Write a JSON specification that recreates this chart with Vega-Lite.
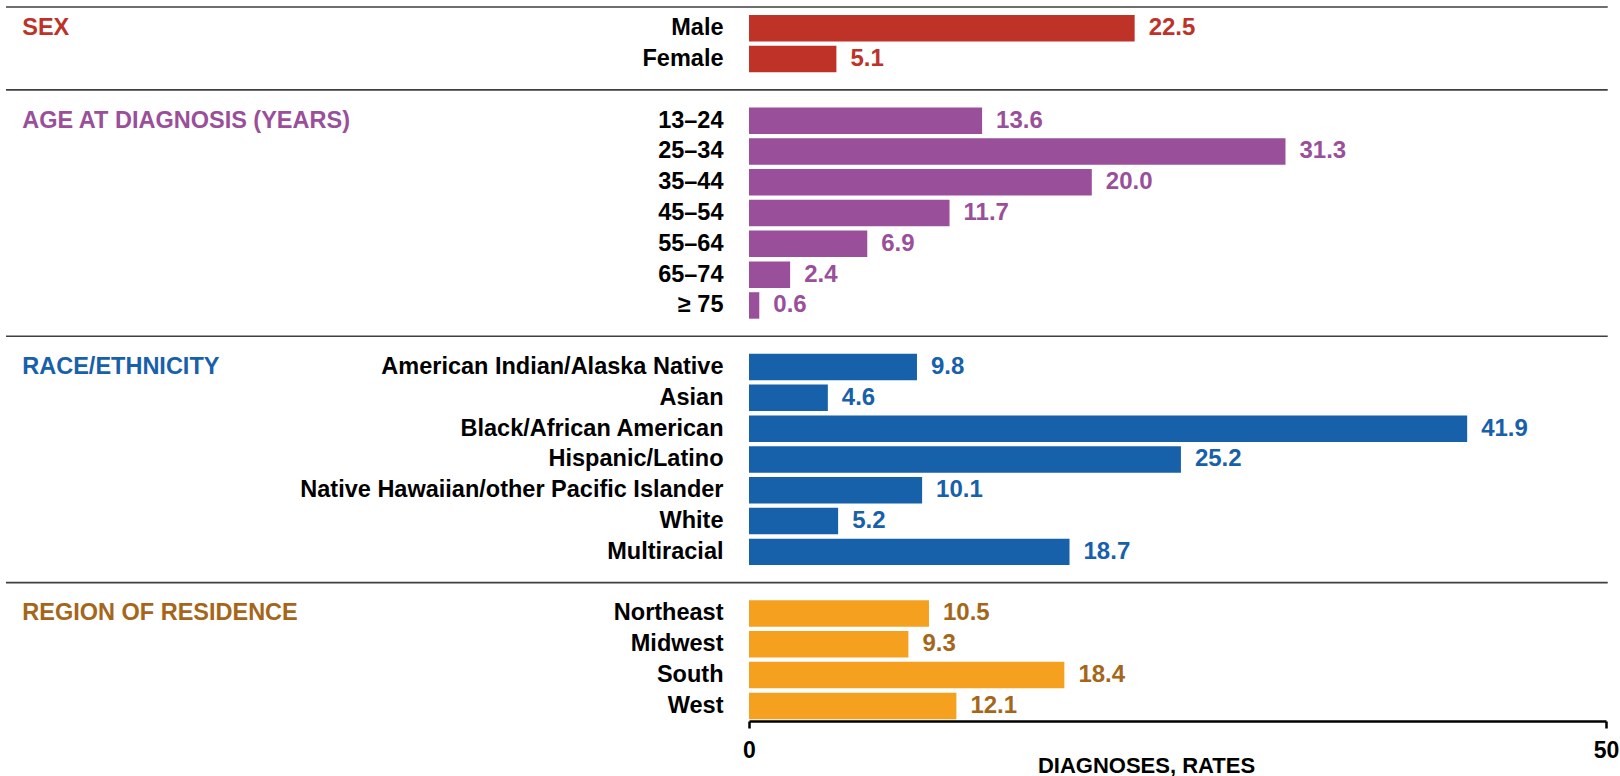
{
  "$schema": "https://vega.github.io/schema/vega-lite/v6.json",
  "width": 857,
  "height": 714,
  "autosize": {"type": "none"},
  "padding": {"left": 749, "top": 7, "right": 14, "bottom": 55},
  "background": "white",
  "config": {
    "view": {"stroke": null},
    "font": "Liberation Sans",
    "text": {"font": "Liberation Sans"}
  },
  "datasets": {
    "bars": [
      {"cat": "Male", "value": 22.5, "group": "Sex"},
      {"cat": "Female", "value": 5.1, "group": "Sex"},
      {"cat": "13–24", "value": 13.6, "group": "Age"},
      {"cat": "25–34", "value": 31.3, "group": "Age"},
      {"cat": "35–44", "value": 20.0, "group": "Age"},
      {"cat": "45–54", "value": 11.7, "group": "Age"},
      {"cat": "55–64", "value": 6.9, "group": "Age"},
      {"cat": "65–74", "value": 2.4, "group": "Age"},
      {"cat": "≥ 75", "value": 0.6, "group": "Age"},
      {"cat": "American Indian/Alaska Native", "value": 9.8, "group": "Race"},
      {"cat": "Asian", "value": 4.6, "group": "Race"},
      {"cat": "Black/African American", "value": 41.9, "group": "Race"},
      {"cat": "Hispanic/Latino", "value": 25.2, "group": "Race"},
      {"cat": "Native Hawaiian/other Pacific Islander", "value": 10.1, "group": "Race"},
      {"cat": "White", "value": 5.2, "group": "Race"},
      {"cat": "Multiracial", "value": 18.7, "group": "Race"},
      {"cat": "Northeast", "value": 10.5, "group": "Region"},
      {"cat": "Midwest", "value": 9.3, "group": "Region"},
      {"cat": "South", "value": 18.4, "group": "Region"},
      {"cat": "West", "value": 12.1, "group": "Region"}
    ],
    "titles": [
      {"title": "SEX", "first": "Male", "group": "Sex"},
      {"title": "AGE AT DIAGNOSIS (YEARS)", "first": "13–24", "group": "Age"},
      {"title": "RACE/ETHNICITY", "first": "American Indian/Alaska Native", "group": "Race"},
      {"title": "REGION OF RESIDENCE", "first": "Northeast", "group": "Region"}
    ],
    "seps": [
      {"sep": "gap1"},
      {"sep": "gap2"},
      {"sep": "gap3"}
    ],
    "toprule": [
      {"line": "top"}
    ]
  },
  "layer": [
    {
      "mark": {"type": "rule", "color": "#D9D9D9", "strokeWidth": 2},
      "encoding": {"x": {"datum": 0, "type": "quantitative"}}
    },
    {
      "data": {"name": "bars"},
      "mark": {"type": "bar"},
      "encoding": {
        "y": {
          "field": "cat",
          "type": "nominal",
          "sort": null,
          "scale": {
            "domain": ["Male", "Female", "gap1", "13–24", "25–34", "35–44", "45–54", "55–64", "65–74", "≥ 75", "gap2", "American Indian/Alaska Native", "Asian", "Black/African American", "Hispanic/Latino", "Native Hawaiian/other Pacific Islander", "White", "Multiracial", "gap3", "Northeast", "Midwest", "South", "West"],
            "paddingInner": 0.14,
            "paddingOuter": 0.16,
            "align": 0.81
          },
          "axis": {
            "title": null,
            "domain": false,
            "ticks": false,
            "grid": false,
            "labelPadding": 26,
            "labelFont": "Liberation Sans",
            "labelFontSize": 23.5,
            "labelFontWeight": "bold",
            "labelColor": "#000000",
            "labelLimit": 600,
            "labelExpr": "test(/^gap/, datum.value) ? '' : datum.value"
          }
        },
        "x": {
          "field": "value",
          "type": "quantitative",
          "scale": {"domain": [0, 50], "nice": false},
          "axis": {
            "values": [0, 50],
            "grid": false,
            "domainColor": "#000000",
            "domainWidth": 2.5,
            "tickColor": "#000000",
            "tickWidth": 2.5,
            "tickSize": 7,
            "labelFont": "Liberation Sans",
            "labelFontSize": 23,
            "labelFontWeight": "bold",
            "labelColor": "#000000",
            "labelPadding": 11,
            "labelFlush": false,
            "title": "DIAGNOSES, RATES",
            "titleFont": "Liberation Sans",
            "titleFontSize": 22,
            "titleFontWeight": "bold",
            "titleColor": "#000000",
            "titleX": 397,
            "titleY": 51,
            "titleAlign": "center",
            "titleBaseline": "alphabetic"
          }
        },
        "color": {
          "field": "group",
          "type": "nominal",
          "scale": {"domain": ["Sex", "Age", "Race", "Region"], "range": ["#BE3228", "#9A4F9A", "#1760AA", "#F5A11F"]},
          "legend": null
        }
      }
    },
    {
      "data": {"name": "bars"},
      "mark": {"type": "text", "align": "left", "baseline": "middle", "dx": 14, "font": "Liberation Sans", "fontSize": 24, "fontWeight": "bold"},
      "encoding": {
        "y": {"field": "cat", "type": "nominal", "sort": null},
        "x": {"field": "value", "type": "quantitative"},
        "text": {"field": "value", "type": "quantitative", "format": ".1f"},
        "color": {
          "field": "group",
          "type": "nominal",
          "scale": {"domain": ["Sex", "Age", "Race", "Region"], "range": ["#BE3228", "#9A4F9A", "#1760AA", "#A5661A"]},
          "legend": null
        }
      }
    },
    {
      "data": {"name": "titles"},
      "mark": {"type": "text", "align": "left", "baseline": "middle", "font": "Liberation Sans", "fontSize": 23.5, "fontWeight": "bold"},
      "encoding": {
        "y": {"field": "first", "type": "nominal", "sort": null},
        "x": {"datum": -42.4, "type": "quantitative"},
        "text": {"field": "title"},
        "color": {
          "field": "group",
          "type": "nominal",
          "scale": {"domain": ["Sex", "Age", "Race", "Region"], "range": ["#BE3228", "#9A4F9A", "#1760AA", "#A5661A"]},
          "legend": null
        }
      }
    },
    {
      "data": {"name": "seps"},
      "mark": {"type": "rule", "color": "#3F3F3F", "strokeWidth": 1.6},
      "encoding": {
        "y": {"field": "sep", "type": "nominal", "sort": null},
        "x": {"datum": -43.35, "type": "quantitative"},
        "x2": {"datum": 50.1}
      }
    },
    {
      "data": {"name": "toprule"},
      "mark": {"type": "rule", "color": "#3F3F3F", "strokeWidth": 1.6},
      "encoding": {
        "y": {"value": 0},
        "x": {"datum": -43.35, "type": "quantitative"},
        "x2": {"datum": 50.1}
      }
    }
  ],
  "resolve": {"scale": {"color": "independent"}}
}
